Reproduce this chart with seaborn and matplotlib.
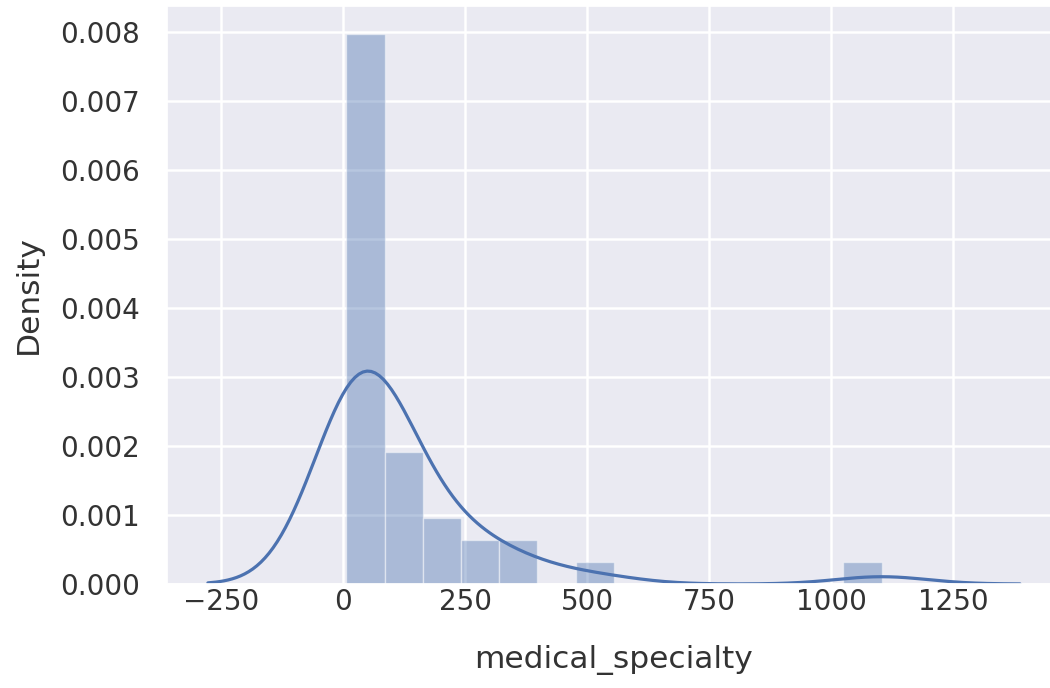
import matplotlib
matplotlib.use("Agg")
import matplotlib.pyplot as plt
import seaborn as sns
import pandas as pd

# Number of transcriptions per medical specialty (40 specialties)
specialties = [
    "Surgery", "Consult - History and Phy.", "Cardiovascular / Pulmonary", "Orthopedic",
    "Radiology", "General Medicine", "Gastroenterology", "Neurology",
    "SOAP / Chart / Progress Notes", "Obstetrics / Gynecology", "Urology",
    "Discharge Summary", "ENT - Otolaryngology", "Neurosurgery", "Hematology - Oncology",
    "Ophthalmology", "Nephrology", "Emergency Room Reports", "Pediatrics - Neonatal",
    "Pain Management", "Psychiatry / Psychology", "Office Notes", "Podiatry",
    "Dermatology", "Dentistry", "Cosmetic / Plastic Surgery", "Letters",
    "Physical Medicine - Rehab", "Sleep Medicine", "Endocrinology", "Bariatrics",
    "IME-QME-Work Comp etc.", "Chiropractic", "Diets and Nutritions", "Rheumatology",
    "Speech - Language", "Autopsy", "Lab Medicine - Pathology", "Allergy / Immunology",
    "Hospice - Palliative Care",
]
specialty_counts = [
    1103, 516, 372, 355, 273, 259, 230, 223, 166, 160, 158, 108, 98, 94, 90,
    83, 81, 75, 70, 62, 53, 51, 47, 29, 27, 27, 23, 21, 20, 19, 18, 16, 14,
    10, 10, 9, 8, 8, 7, 6,
]
n_bins = 14

df = pd.DataFrame({"specialty": specialties, "medical_specialty": specialty_counts})

sns.set_theme(style="darkgrid")
plt.rcParams["font.family"] = ["DejaVu Sans"]
plt.rcParams["grid.linewidth"] = 1.8

fig = plt.figure(figsize=(10.5, 6.88), dpi=100)
ax = fig.add_axes([167.3 / 1050, 1 - 584 / 688, (1060.6 - 167.3) / 1050, (584 - 6) / 688])

color = sns.color_palette("deep")[0]
sns.histplot(
    data=df, x="medical_specialty", bins=n_bins, stat="density", kde=True,
    color=color, alpha=0.4, edgecolor=(1, 1, 1, 0.45), linewidth=1.0,
    kde_kws={"cut": 3}, line_kws={"linewidth": 2.3}, ax=ax,
)
for line in ax.lines:
    line.set_color(color)

text_color = "#333333"
ax.set_xlabel("medical_specialty", fontsize=22.5, color=text_color, labelpad=21)
ax.set_ylabel("Density", fontsize=22.5, color=text_color, labelpad=12)
ax.tick_params(axis="both", labelsize=20, colors=text_color, length=0)
ax.tick_params(axis="y", pad=20)
ax.tick_params(axis="x", pad=3)

fig.savefig("out.png", dpi=100)
